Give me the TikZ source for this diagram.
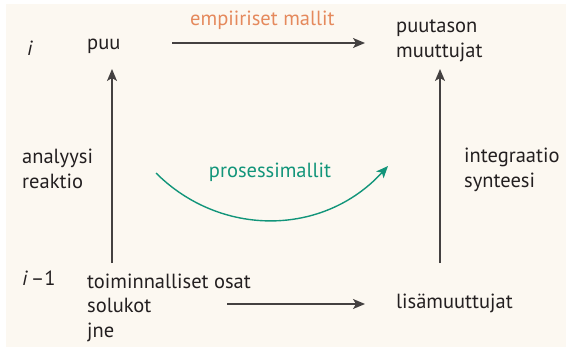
\documentclass[tikz,border=0pt]{standalone}
\usepackage{fontspec}
\setmainfont{PT Sans}
\usetikzlibrary{arrows.meta}
\definecolor{paper}{HTML}{FCF8F1}
\definecolor{ink}{HTML}{231F20}
\definecolor{empir}{HTML}{E5895C}
\definecolor{proc}{HTML}{12957A}
\tikzset{
  lbl/.style={anchor=base west, inner sep=0pt, text=ink, align=left,
    font=\fontsize{20.5}{24.5}\selectfont},
  flow/.style={draw=ink!85, line width=1.4pt,
    -{Stealth[length=12pt,width=10pt,inset=3pt]}},
}
\begin{document}
\begin{tikzpicture}[x=1pt,y=-1pt]
  \useasboundingbox (0,0) rectangle (566,349);
  \fill[white] (0,0) rectangle (566,349);
  \fill[paper] (6,4) rectangle (566,347);

  % level markers
  \node[lbl] (lvlI) at (27,55) {\itshape i};
  \node[lbl] (lvlII) at (22,285) {\itshape i\upshape\,–1};

  % quantities (multi-line nodes sit on the baseline of their last line)
  \node[lbl] (puu) at (87,49) {puu};
  \node[lbl] (puut) at (396,57) {puutason\\muuttujat};
  \node[lbl] (osat) at (87,337) {toiminnalliset osat\\solukot\\jne};
  \node[lbl] (lisa) at (396,308) {lisämuuttujat};

  % side labels
  \node[lbl] (anal) at (22,188) {analyysi\\reaktio};
  \node[lbl] (integ) at (464,187) {integraatio\\synteesi};

  % model labels
  \node[lbl, text=empir] (emp) at (190,25) {empiiriset mallit};
  \node[lbl, text=proc, anchor=base] (pros) at (270,177) {prosessimallit};

  % connector anchors
  \coordinate (puuR) at (172,43);
  \coordinate (puutL) at (365,43);
  \coordinate (osatR) at (227,304);
  \coordinate (lisaL) at (365,304);
  \coordinate (leftB) at (112,263);
  \coordinate (leftT) at (112,69);
  \coordinate (rightB) at (440,263);
  \coordinate (rightT) at (440,69);
  \coordinate (curveS) at (156,173);
  \coordinate (curveE) at (388,166);

  \draw[flow] (puuR) -- (puutL);
  \draw[flow] (osatR) -- (lisaL);
  \draw[flow] (leftB) -- (leftT);
  \draw[flow] (rightB) -- (rightT);
  \draw[draw=proc, line width=1.4pt, -{Stealth[length=12pt,width=10pt,inset=3pt]}]
    (curveS) .. controls (220,237) and (323,237) .. (curveE);
\end{tikzpicture}
\end{document}
